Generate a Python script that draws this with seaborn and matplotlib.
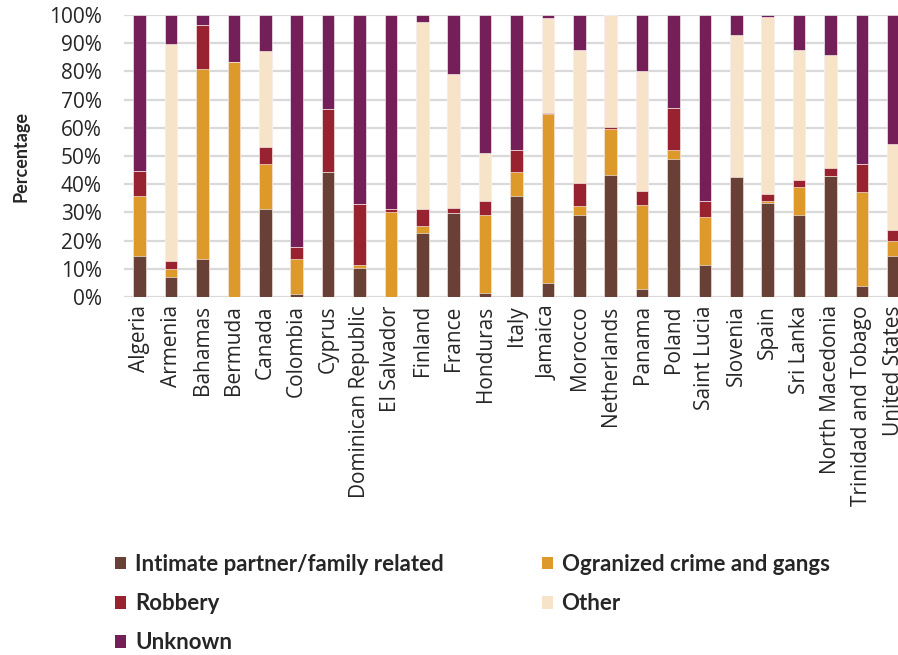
import numpy as np
import pandas as pd
import matplotlib
matplotlib.use("Agg")
import matplotlib.pyplot as plt
import seaborn as sns
from matplotlib.patches import Patch
from matplotlib.ticker import PercentFormatter

# Datos (porcentajes)
countries = ["Algeria", "Armenia", "Bahamas", "Bermuda", "Canada", "Colombia", "Cyprus",
             "Dominican Republic", "El Salvador", "Finland", "France", "Honduras", "Italy",
             "Jamaica", "Morocco", "Netherlands", "Panama", "Poland", "Saint Lucia",
             "Slovenia", "Spain", "Sri Lanka", "North Macedonia", "Trinidad and Tobago",
             "United States"]
intimate = [14.7, 7.1, 13.4, 0.0, 31.2, 1.2, 44.4, 10.4, 0.0, 22.8, 29.7, 1.5, 35.7,
            5.1, 29.2, 43.2, 2.7, 48.9, 11.2, 42.7, 33.3, 29.0, 42.8, 3.8, 14.7]
organized = [21.2, 2.8, 67.5, 83.2, 16.1, 12.4, 0.0, 1.0, 30.2, 2.4, 0.0, 27.7, 8.8,
             59.9, 3.2, 16.3, 30.0, 3.1, 17.1, 0.0, 0.7, 9.9, 0.0, 33.5, 5.2]
robbery = [8.7, 2.9, 15.5, 0.2, 6.0, 4.3, 22.3, 21.5, 0.9, 6.0, 2.0, 4.8, 7.6,
           0.2, 8.2, 0.9, 4.9, 15.0, 5.7, 0.0, 2.6, 2.5, 2.9, 9.8, 3.7]
other = [0.0, 77.0, 0.0, 0.0, 33.8, 0.0, 0.0, 0.0, 0.0, 66.3, 47.4, 17.1, 0.0,
         33.7, 47.1, 39.6, 42.5, 0.0, 0.0, 50.2, 62.7, 46.3, 40.0, 0.0, 30.6]
unknown = [55.4, 10.2, 3.6, 16.6, 12.9, 82.1, 33.3, 67.1, 68.9, 2.5, 20.9, 48.9, 47.9,
           1.1, 12.3, 0.0, 19.9, 33.0, 66.0, 7.1, 0.7, 12.3, 14.3, 52.9, 45.8]

series = ["Intimate partner/family related", "Ogranized crime and gangs", "Robbery",
          "Other", "Unknown"]
colors = ["#694035", "#DD9A2A", "#982230", "#F7E4C8", "#751F58"]

df = pd.DataFrame({"country": countries, series[0]: intimate, series[1]: organized,
                   series[2]: robbery, series[3]: other, series[4]: unknown})

# Acumulados para apilar (se dibuja de arriba hacia abajo)
cum = df[series].cumsum(axis=1)

sns.set_style("white")
plt.rcParams["font.family"] = ["Open Sans", "DejaVu Sans"]

fig = plt.figure(figsize=(8.98, 6.55), dpi=100)
ax = fig.add_axes([124 / 898, 358 / 655, 785 / 898, 282 / 655])

for name, col in reversed(list(zip(series, colors))):
    sns.barplot(x=df["country"], y=cum[name], color=col, width=0.4, saturation=1,
                edgecolor="white", linewidth=0.4, ax=ax, zorder=3)

ax.set_ylim(0, 100)
ax.set_xlim(-0.5, len(countries) - 0.5)
ax.set_yticks(np.arange(0, 101, 10))
ax.yaxis.set_major_formatter(PercentFormatter(decimals=0))
ax.yaxis.grid(True, color="#d9d9d9", linewidth=1.6, zorder=0)
ax.set_axisbelow(True)
for s in ax.spines.values():
    s.set_visible(False)
ax.tick_params(axis="y", length=0, pad=16, labelsize=15)
ax.tick_params(axis="x", length=0, pad=6, labelsize=15, rotation=90)
ax.set_xlabel("")
ax.set_ylabel("Percentage", fontsize=13, fontweight="bold", family=["Lato", "DejaVu Sans"],
              labelpad=14)

# Leyenda en dos columnas
order = [0, 2, 4, 1, 3]
handles = [Patch(facecolor=colors[i], edgecolor="none") for i in order]
labels = [series[i] for i in order]
fig.legend(handles, labels, loc="upper left", bbox_to_anchor=(95 / 898, 1 - 534 / 655),
           ncol=2, frameon=False, handlelength=0.5, handleheight=0.5, handletextpad=0.4,
           labelspacing=0.82, columnspacing=4.4,
           prop={"family": ["Lato", "DejaVu Sans"], "weight": "bold", "size": 16})

fig.savefig("out.png", dpi=100)
